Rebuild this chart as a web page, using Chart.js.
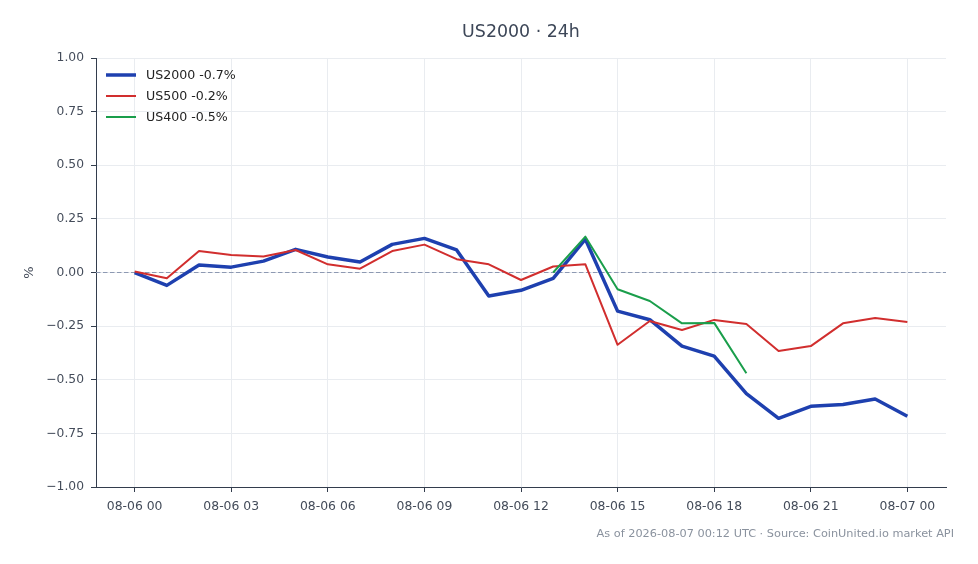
<!DOCTYPE html>
<html>
<head>
<meta charset="utf-8">
<script src="https://cdn.jsdelivr.net/npm/chart.js@4.4.1/dist/chart.umd.min.js"></script>
<style>
html,body{margin:0;padding:0;background:#fff;}
#wrap{width:978px;height:564px;position:relative;}
</style>
</head>
<body>
<div id="wrap"><canvas id="c" width="978" height="564"></canvas></div>
<script>
// ---- data ----
const hours = ['08-06 00','08-06 01','08-06 02','08-06 03','08-06 04','08-06 05','08-06 06','08-06 07','08-06 08','08-06 09','08-06 10','08-06 11','08-06 12','08-06 13','08-06 14','08-06 15','08-06 16','08-06 17','08-06 18','08-06 19','08-06 20','08-06 21','08-06 22','08-06 23','08-07 00'];
const us2000 = [0.00,-0.06,0.035,0.025,0.053,0.108,0.072,0.049,0.131,0.159,0.105,-0.11,-0.083,-0.027,0.155,-0.18,-0.22,-0.343,-0.39,-0.565,-0.68,-0.624,-0.615,-0.59,-0.67];
const us500 = [0.005,-0.027,0.10,0.082,0.075,0.105,0.038,0.018,0.10,0.13,0.062,0.038,-0.035,0.028,0.038,-0.337,-0.226,-0.268,-0.221,-0.24,-0.366,-0.343,-0.237,-0.212,-0.231];
const us400 = [null,null,null,null,null,null,null,null,null,null,null,null,null,0.00,0.167,-0.078,-0.133,-0.237,-0.235,-0.47,null,null,null,null,null];
const seriesLabels = ['US2000 -0.7%','US500 -0.2%','US400 -0.5%'];
const xTickHours = [0,3,6,9,12,15,18,21,24];
const yTicks = [-1,-0.75,-0.5,-0.25,0,0.25,0.5,0.75,1];
const titleText = 'US2000 · 24h';
const footerText = 'As of 2026-08-07 00:12 UTC · Source: CoinUnited.io market API';

const FONT = "'DejaVu Sans', sans-serif";
const toPts = arr => arr.map((v,i)=>({x:i,y:v}));

const extras = {
  id:'extras',
  beforeDatasetsDraw(chart){
    const {ctx, chartArea:a, scales:{y}} = chart;
    const py = y.getPixelForValue(0);
    ctx.save();
    ctx.strokeStyle = '#8d99b2';
    ctx.lineWidth = 1;
    ctx.setLineDash([4.5,2.5]);
    ctx.beginPath();
    ctx.moveTo(a.left, py); ctx.lineTo(a.right, py);
    ctx.stroke();
    ctx.restore();
  },
  afterDraw(chart){
    const {ctx, chartArea:a} = chart;
    ctx.save();
    // title
    ctx.fillStyle = '#3d4758';
    ctx.font = `17.4px ${FONT}`;
    ctx.textAlign = 'center';
    ctx.textBaseline = 'middle';
    ctx.fillText(titleText, (a.left+a.right)/2, 32);
    // legend
    chart.data.datasets.forEach((ds,i)=>{
      const yy = 75 + 21*i;
      ctx.strokeStyle = ds.borderColor;
      ctx.lineWidth = ds.borderWidth;
      ctx.setLineDash([]);
      ctx.beginPath();
      ctx.moveTo(106, yy); ctx.lineTo(136, yy);
      ctx.stroke();
      ctx.fillStyle = '#222';
      ctx.font = `12.6px ${FONT}`;
      ctx.textAlign = 'left';
      ctx.textBaseline = 'middle';
      ctx.fillText(ds.label, 146, yy+1);
    });
    // footer
    ctx.fillStyle = '#8a929e';
    ctx.font = `11.3px ${FONT}`;
    ctx.textAlign = 'right';
    ctx.textBaseline = 'middle';
    ctx.fillText(footerText, 954, 534);
    ctx.restore();
  }
};

new Chart(document.getElementById('c'), {
  type:'line',
  data:{
    datasets:[
      {label:seriesLabels[0], data:toPts(us2000), borderColor:'#1e40af', borderWidth:3.5, order:2},
      {label:seriesLabels[1], data:toPts(us500), borderColor:'#d12e2e', borderWidth:2, order:1},
      {label:seriesLabels[2], data:toPts(us400), borderColor:'#1a9e4b', borderWidth:2, order:0}
    ]
  },
  options:{
    responsive:false,
    animation:false,
    devicePixelRatio:1,
    layout:{padding:{left:0,right:32,top:58,bottom:0}},
    elements:{
      point:{radius:0},
      line:{tension:0, borderJoinStyle:'round', borderCapStyle:'butt', fill:false}
    },
    plugins:{legend:{display:false}, title:{display:false}, tooltip:{enabled:false}},
    scales:{
      x:{
        type:'linear', min:-1.2, max:25.2,
        afterBuildTicks(s){ s.ticks = xTickHours.map(v=>({value:v})); },
        afterFit(s){ s.height = 77; },
        ticks:{
          callback:(v)=> hours[v],
          color:'#444c5a', font:{family:FONT, size:12.4}, padding:7, maxRotation:0, autoSkip:false
        },
        grid:{color:'#e9ecf0', tickColor:'#333d4d', tickLength:5, lineWidth:1},
        border:{display:true, color:'#333d4d', width:1}
      },
      y:{
        min:-1, max:1,
        afterBuildTicks(s){ s.ticks = yTicks.map(v=>({value:v})); },
        afterFit(s){ s.width = 96; },
        ticks:{
          callback:(v)=> v.toFixed(2).replace('-','\u2212'),
          color:'#444c5a', font:{family:FONT, size:12.3}, padding:7
        },
        grid:{color:'#e9ecf0', tickColor:'#333d4d', tickLength:5, lineWidth:1},
        border:{display:true, color:'#333d4d', width:1},
        title:{display:true, text:'%', color:'#444c5a', font:{family:FONT, size:13}, padding:{top:22,bottom:0}}
      }
    }
  },
  plugins:[extras]
});
</script>
</body>
</html>
